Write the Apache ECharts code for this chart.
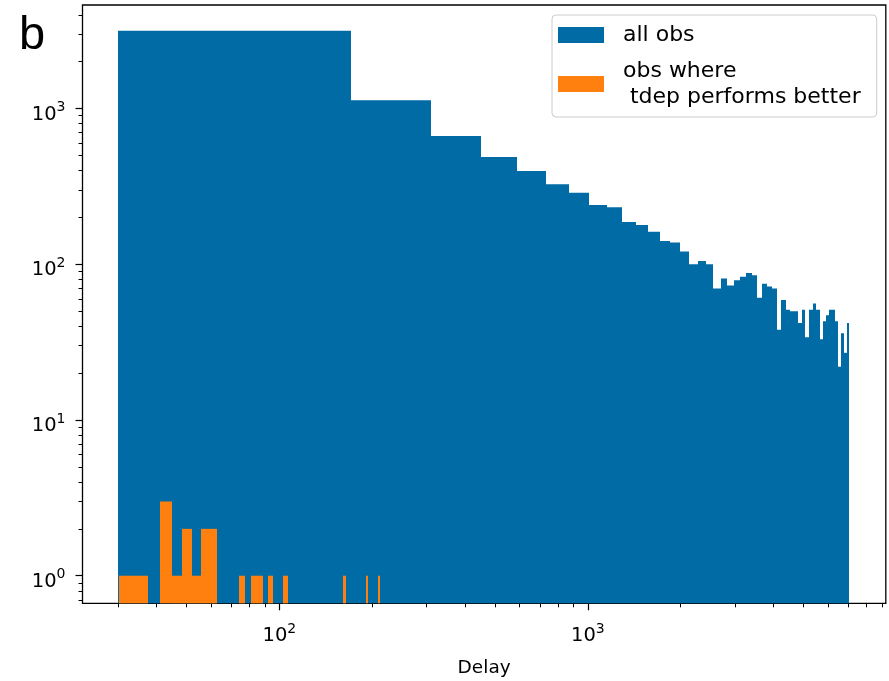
<!DOCTYPE html>
<html>
<head>
<meta charset="utf-8">
<script src="https://cdn.jsdelivr.net/npm/echarts@6/dist/echarts.min.js"></script>
<style>
  html, body { margin: 0; padding: 0; background: #fff; }
  #chart { width: 889px; height: 681px; }
</style>
</head>
<body>
<div id="chart"></div>
<script>
// histogram of delays, 50 linear bins each
var allObsStart = 30;
var allObsWidth = 140.2;
var allObsCounts = [3165, 1131, 667, 489, 397, 327, 288, 240, 232, 187,
  179, 162, 141, 138, 121, 100, 105, 100, 70, 81,
  73, 79, 83, 88, 85, 61, 75, 72, 70, 38,
  59, 51, 50, 50, 42, 51, 34, 51, 56, 51,
  33, 43, 47, 51, 51, 43, 22, 36, 27, 42];

var betterStart = 30.2;
var betterWidth = 3.638;
var betterCounts = [1, 1, 0, 3, 1, 2, 1, 2, 2, 0,
  0, 0, 1, 0, 1, 1, 0, 1, 0, 0,
  1, 0, 0, 0, 0, 0, 0, 0, 0, 0,
  0, 0, 0, 0, 0, 0, 1, 0, 0, 0,
  0, 0, 0, 0, 1, 0, 0, 0, 0, 1];

var seriesNames = ['all obs', 'obs where\n tdep performs better'];

var xMajor = [100, 1000];
var xMinor = [30, 40, 50, 60, 70, 80, 90, 200, 300, 400, 500, 600, 700, 800, 900,
  2000, 3000, 4000, 5000, 6000, 7000, 8000, 9000];
var yMajor = [1, 10, 100, 1000];
var yMinor = [0.7, 0.8, 0.9, 2, 3, 4, 5, 6, 7, 8, 9, 20, 30, 40, 50, 60, 70, 80, 90,
  200, 300, 400, 500, 600, 700, 800, 900, 2000, 3000, 4000];

var xRange = [23.0, 9247];
var yRange = [0.665, 4624];

function toBins(start, width, counts) {
  var out = [];
  counts.forEach(function (c, i) {
    if (c > 0) out.push([start + i * width, start + (i + 1) * width, c]);
  });
  return out;
}

// 10^n as rich text, the exponent raised
function powLabel(v) {
  var e = Math.round(Math.log10(v));
  return '{b|10}{s|' + e + '}';
}
var powRich = {
  b: { fontFamily: 'DejaVu Sans', fontSize: 19.5, color: '#000' },
  s: { fontFamily: 'DejaVu Sans', fontSize: 14, color: '#000', padding: [0, 0, 14, 0] }
};

function renderBar(params, api) {
  var p0 = api.coord([api.value(0), api.value(2)]);
  var p1 = api.coord([api.value(1), api.value(2)]);
  var bottom = params.coordSys.y + params.coordSys.height;
  // snap to whole pixels so neighbouring bins leave no seam
  var x0 = Math.round(p0[0]);
  var x1 = Math.max(Math.round(p1[0]), x0 + 1);
  return {
    type: 'rect',
    shape: { x: x0, y: p0[1], width: x1 - x0, height: bottom - p0[1] },
    style: { fill: api.visual('color') }
  };
}

var chart = echarts.init(document.getElementById('chart'));
var font = 'DejaVu Sans';

var majorAxis = function (ticks, extra) {
  return Object.assign({
    type: 'log',
    logBase: 10,
    axisLine: { show: false },
    splitLine: { show: false },
    axisTick: { show: true, length: 7, lineStyle: { color: '#000', width: 1.2 }, customValues: ticks }
  }, extra);
};
var minorAxis = function (ticks, extra) {
  return Object.assign({
    type: 'log',
    logBase: 10,
    axisLine: { show: false },
    splitLine: { show: false },
    axisTick: { show: true, length: 4, lineStyle: { color: '#000', width: 1 }, customValues: ticks },
    axisLabel: { show: false }
  }, extra);
};

var option = {
  backgroundColor: '#ffffff',
  animation: false,
  grid: {
    left: 82.5, top: 5, right: 3.2, bottom: 77.7,
    show: true, borderColor: '#000', borderWidth: 1.3, backgroundColor: 'transparent',
    outerBoundsMode: 'none'
  },
  legend: {
    orient: 'vertical',
    left: 552,
    top: 15,
    padding: [7, 16, 7, 6],
    itemGap: 10,
    itemWidth: 46,
    itemHeight: 16,
    icon: 'rect',
    data: seriesNames,
    backgroundColor: 'rgba(255,255,255,0.8)',
    borderColor: '#cccccc',
    borderWidth: 1,
    borderRadius: 4,
    textStyle: { fontFamily: font, fontSize: 22, color: '#000', lineHeight: 26, padding: [0, 0, 0, 14] }
  },
  xAxis: [
    majorAxis(xMajor, {
      min: xRange[0], max: xRange[1], position: 'bottom',
      name: 'Delay', nameLocation: 'middle', nameGap: 55,
      nameTextStyle: { fontFamily: font, fontSize: 18.5, color: '#000' },
      axisLabel: { show: true, customValues: xMajor, formatter: powLabel, rich: powRich, margin: 19 }
    }),
    minorAxis(xMinor, { min: xRange[0], max: xRange[1], position: 'bottom' })
  ],
  yAxis: [
    majorAxis(yMajor, {
      min: yRange[0], max: yRange[1], position: 'left',
      axisLabel: { show: true, customValues: yMajor, formatter: powLabel, rich: powRich, margin: 17, padding: [12, 0, 0, 0] }
    }),
    minorAxis(yMinor, { min: yRange[0], max: yRange[1], position: 'left' })
  ],
  graphic: [{
    type: 'text', left: 19, top: 13,
    style: { text: 'b', fontFamily: 'Liberation Sans', fontSize: 47, fill: '#000' }
  }],
  series: [
    {
      name: seriesNames[0], type: 'custom', xAxisIndex: 0, yAxisIndex: 0,
      itemStyle: { color: '#006BA4' },
      encode: { x: [0, 1], y: 2 },
      renderItem: renderBar,
      data: toBins(allObsStart, allObsWidth, allObsCounts)
    },
    {
      name: seriesNames[1], type: 'custom', xAxisIndex: 0, yAxisIndex: 0,
      itemStyle: { color: '#FF800E' },
      encode: { x: [0, 1], y: 2 },
      renderItem: renderBar,
      data: toBins(betterStart, betterWidth, betterCounts)
    }
  ]
};

chart.setOption(option);
</script>
</body>
</html>
